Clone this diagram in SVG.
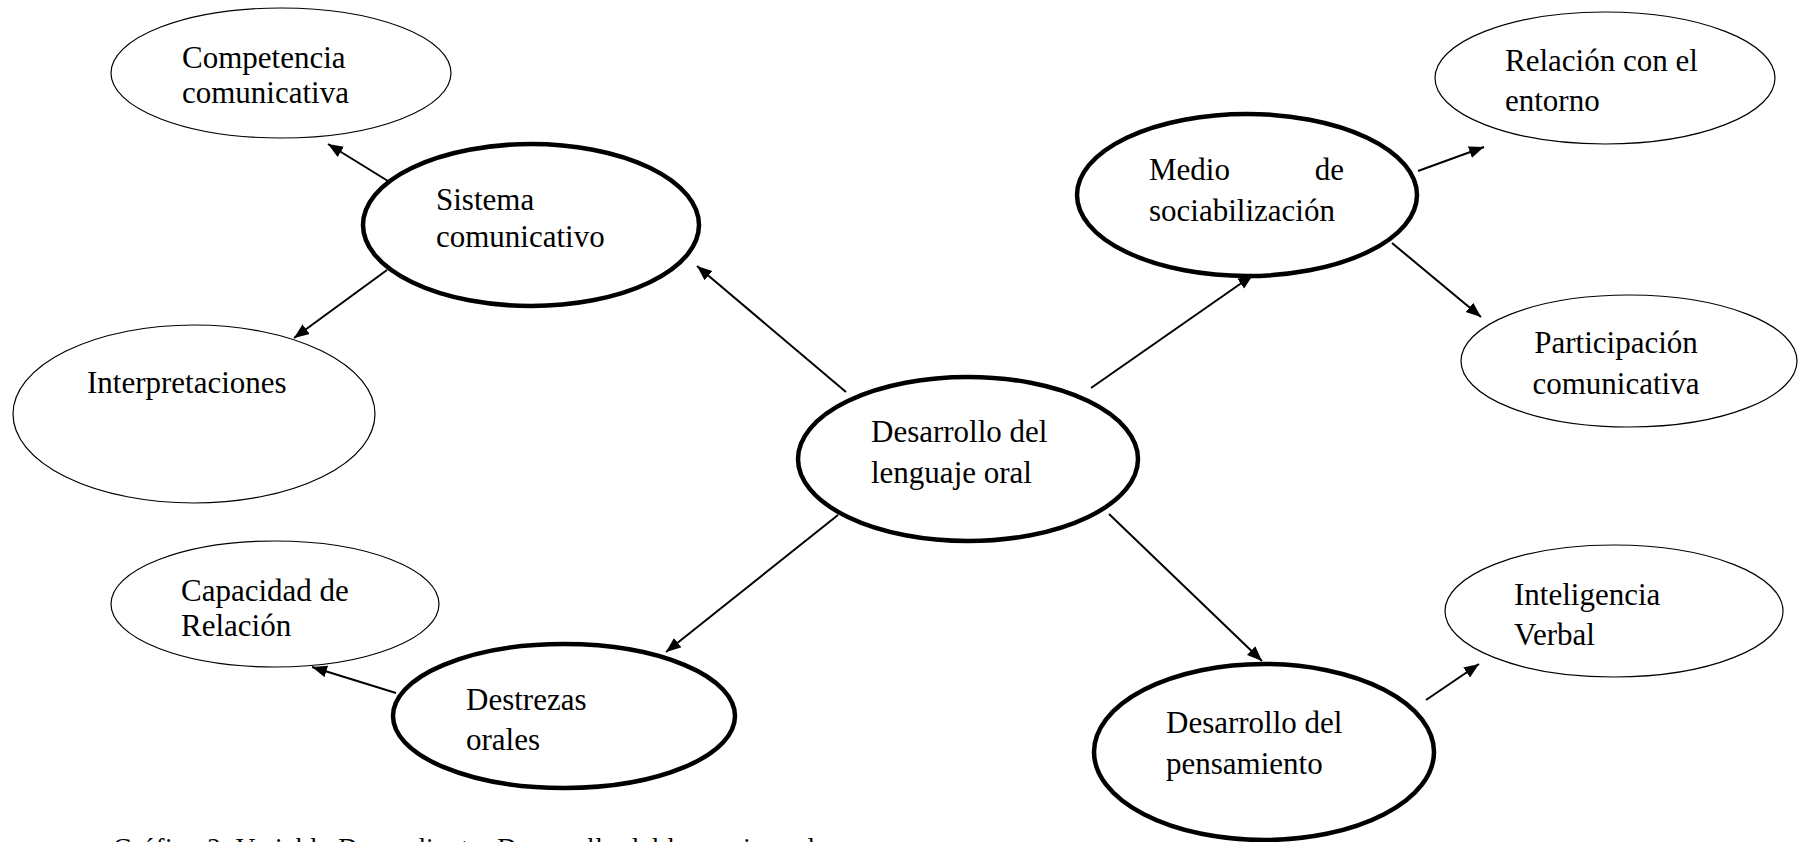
<svg xmlns="http://www.w3.org/2000/svg" width="1798" height="842" viewBox="0 0 1798 842">
<style>
.thin{fill:#fff;stroke:#000;stroke-width:1.2}
.thick{fill:#fff;stroke:#000;stroke-width:4.5}
text{font-family:"Liberation Serif","Times New Roman",serif;font-size:31px;fill:#000}
.c{text-anchor:middle}
.e{text-anchor:end}
.link{stroke:#000;stroke-width:2;fill:none;marker-end:url(#arr)}
</style>
<defs>
<marker id="arr" markerUnits="userSpaceOnUse" markerWidth="16" markerHeight="14" refX="15" refY="6" orient="auto">
<path d="M0,0 L15,6 L0,12 Z" fill="#000"/>
</marker>
</defs>
<rect width="1798" height="842" fill="#fff"/>
<g id="competencia">
<ellipse class="thin" cx="281" cy="73" rx="170" ry="65"/>
<text x="182" y="68">Competencia</text>
<text x="182" y="103">comunicativa</text>
</g>
<g id="sistema">
<ellipse class="thick" cx="531" cy="225" rx="168" ry="81"/>
<text x="436" y="210">Sistema</text>
<text x="436" y="247">comunicativo</text>
</g>
<g id="interpretaciones">
<ellipse class="thin" cx="194" cy="414" rx="181" ry="89"/>
<text x="87" y="393">Interpretaciones</text>
</g>
<g id="capacidad">
<ellipse class="thin" cx="275" cy="604" rx="164" ry="63"/>
<text x="181" y="601">Capacidad de</text>
<text x="181" y="636">Relación</text>
</g>
<g id="destrezas">
<ellipse class="thick" cx="564" cy="716" rx="171" ry="72"/>
<text x="466" y="710">Destrezas</text>
<text x="466" y="750">orales</text>
</g>
<g id="central">
<ellipse class="thick" cx="968" cy="459" rx="170" ry="82"/>
<text x="871" y="442">Desarrollo del</text>
<text x="871" y="483">lenguaje oral</text>
</g>
<g id="medio">
<ellipse class="thick" cx="1247" cy="195" rx="170" ry="81"/>
<text x="1149" y="180">Medio</text>
<text class="e" x="1344" y="180">de</text>
<text x="1149" y="221">sociabilización</text>
</g>
<g id="relacion">
<ellipse class="thin" cx="1605" cy="78" rx="170" ry="66"/>
<text x="1505" y="71">Relación con el</text>
<text x="1505" y="111">entorno</text>
</g>
<g id="participacion">
<ellipse class="thin" cx="1629" cy="361" rx="168" ry="66"/>
<text class="c" x="1616" y="353">Participación</text>
<text class="c" x="1616" y="394">comunicativa</text>
</g>
<g id="inteligencia">
<ellipse class="thin" cx="1614" cy="611" rx="169" ry="66"/>
<text x="1514" y="605">Inteligencia</text>
<text x="1514" y="645">Verbal</text>
</g>
<g id="pensamiento">
<ellipse class="thick" cx="1264" cy="752" rx="170" ry="88"/>
<text x="1166" y="733">Desarrollo del</text>
<text x="1166" y="774">pensamiento</text>
</g>
<g id="connectors">
<line class="link" x1="846" y1="392" x2="697" y2="266"/>
<line class="link" x1="1091" y1="388" x2="1253" y2="275"/>
<line class="link" x1="838" y1="515" x2="666" y2="652"/>
<line class="link" x1="1109" y1="514" x2="1262" y2="661"/>
<line class="link" x1="388" y1="181" x2="328" y2="144"/>
<line class="link" x1="387" y1="270" x2="294" y2="338"/>
<line class="link" x1="396" y1="693" x2="312" y2="667"/>
<line class="link" x1="1418" y1="171" x2="1484" y2="147"/>
<line class="link" x1="1392" y1="243" x2="1481" y2="317"/>
<line class="link" x1="1426" y1="700" x2="1479" y2="664"/>
</g>
<text x="113" y="857" style="font-size:27px" textLength="702" lengthAdjust="spacing">Gráfico 2. Variable Dependiente: Desarrollo del lenguaje oral</text>
</svg>
